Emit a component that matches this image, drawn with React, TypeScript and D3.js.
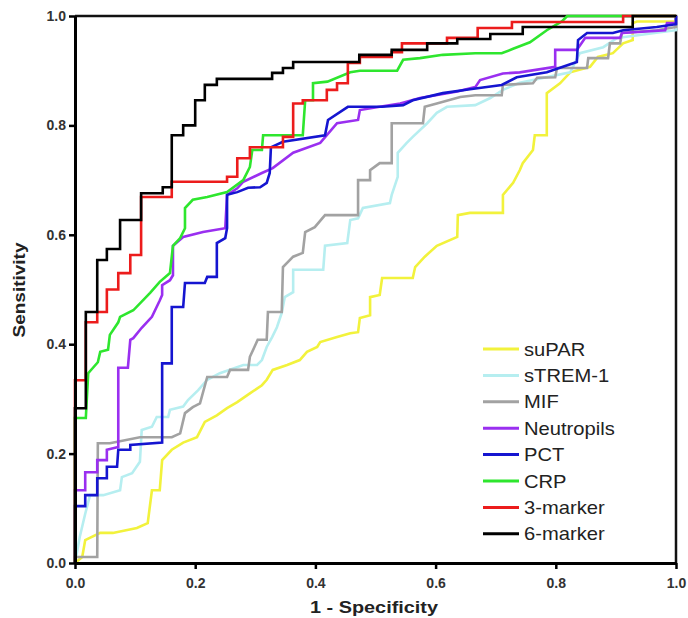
import React, { useEffect, useRef } from "react";
import * as d3 from "d3";

// legend order = draw order (6-marker ends up on top)
const legendLabels = ["suPAR", "sTREM-1", "MIF", "Neutropils", "PCT", "CRP", "3-marker", "6-marker"];
const lineColors = ["#f2f23c", "#b6eef0", "#a2a2a2", "#9a2ff0", "#1515d0", "#2ee62e", "#ec1c1c", "#000000"];
const axisTicks = [0, 0.2, 0.4, 0.6, 0.8, 1.0];

// [1 - specificity, sensitivity]
const suparRoc = [
  [0, 0], [0.012, 0.011], [0.017, 0.042], [0.042, 0.055], [0.063, 0.055], [0.103, 0.064], [0.121, 0.073],
  [0.128, 0.133], [0.141, 0.133], [0.145, 0.188], [0.161, 0.207], [0.18, 0.22], [0.203, 0.23], [0.216, 0.258],
  [0.236, 0.27], [0.253, 0.283], [0.27, 0.294], [0.291, 0.31], [0.311, 0.325], [0.319, 0.335], [0.329, 0.353],
  [0.353, 0.362], [0.374, 0.371], [0.386, 0.386], [0.403, 0.395], [0.408, 0.404], [0.436, 0.413], [0.458, 0.42],
  [0.471, 0.422], [0.474, 0.448], [0.491, 0.453], [0.491, 0.486], [0.507, 0.49], [0.511, 0.521], [0.562, 0.521],
  [0.566, 0.541], [0.582, 0.56], [0.602, 0.58], [0.636, 0.596], [0.637, 0.636], [0.657, 0.64], [0.712, 0.64],
  [0.712, 0.673], [0.729, 0.695], [0.74, 0.718], [0.745, 0.731], [0.762, 0.755], [0.765, 0.782], [0.785, 0.782],
  [0.785, 0.859], [0.807, 0.877], [0.824, 0.897], [0.857, 0.907], [0.87, 0.925], [0.895, 0.932], [0.912, 0.95],
  [0.928, 0.956], [0.928, 0.987], [0.935, 0.99], [1, 0.99], [1, 1],
];
const stremRoc = [
  [0, 0], [0.008, 0.048], [0.017, 0.09], [0.025, 0.124], [0.047, 0.124], [0.075, 0.133], [0.078, 0.157],
  [0.095, 0.164], [0.108, 0.185], [0.111, 0.243], [0.128, 0.249], [0.136, 0.267], [0.155, 0.267], [0.158, 0.28],
  [0.18, 0.286], [0.188, 0.298], [0.205, 0.316], [0.22, 0.335], [0.241, 0.347], [0.28, 0.362], [0.303, 0.362],
  [0.311, 0.371], [0.319, 0.395], [0.328, 0.413], [0.336, 0.431], [0.344, 0.457], [0.349, 0.486], [0.363, 0.495],
  [0.363, 0.536], [0.413, 0.536], [0.416, 0.58], [0.453, 0.585], [0.458, 0.627], [0.471, 0.63], [0.479, 0.649],
  [0.524, 0.658], [0.527, 0.673], [0.537, 0.706], [0.537, 0.75], [0.552, 0.768], [0.562, 0.779], [0.586, 0.804],
  [0.602, 0.823], [0.619, 0.834], [0.666, 0.837], [0.691, 0.85], [0.712, 0.865], [0.74, 0.878], [0.824, 0.897],
  [0.84, 0.932], [0.879, 0.943], [0.902, 0.96], [1, 0.974], [1, 1],
];
const mifRoc = [
  [0, 0], [0, 0.011], [0.037, 0.011], [0.038, 0.219], [0.058, 0.219], [0.108, 0.23], [0.161, 0.23],
  [0.175, 0.237], [0.183, 0.274], [0.196, 0.285], [0.208, 0.292], [0.22, 0.34], [0.253, 0.34], [0.258, 0.353],
  [0.288, 0.353], [0.291, 0.377], [0.304, 0.408], [0.319, 0.408], [0.321, 0.459], [0.344, 0.459], [0.346, 0.541],
  [0.363, 0.56], [0.379, 0.567], [0.383, 0.605], [0.399, 0.614], [0.416, 0.636], [0.471, 0.636], [0.471, 0.7],
  [0.491, 0.7], [0.491, 0.718], [0.507, 0.731], [0.527, 0.731], [0.527, 0.804], [0.579, 0.804], [0.582, 0.834],
  [0.602, 0.84], [0.641, 0.852], [0.666, 0.855], [0.71, 0.855], [0.712, 0.874], [0.762, 0.877], [0.769, 0.887],
  [0.799, 0.888], [0.802, 0.905], [0.852, 0.905], [0.854, 0.923], [0.887, 0.923], [0.89, 0.95], [0.907, 0.95],
  [0.91, 0.969], [0.968, 0.974], [1, 0.98], [1, 1],
];
const neutroRoc = [
  [0, 0], [0, 0.133], [0.017, 0.133], [0.017, 0.166], [0.037, 0.166], [0.037, 0.188], [0.053, 0.188],
  [0.053, 0.207], [0.072, 0.212], [0.072, 0.357], [0.088, 0.357], [0.092, 0.408], [0.097, 0.411], [0.111, 0.43],
  [0.128, 0.45], [0.141, 0.48], [0.145, 0.49], [0.145, 0.508], [0.158, 0.517], [0.163, 0.526], [0.163, 0.58],
  [0.18, 0.596], [0.213, 0.605], [0.25, 0.612], [0.253, 0.673], [0.27, 0.685], [0.28, 0.697], [0.311, 0.713],
  [0.329, 0.722], [0.363, 0.75], [0.408, 0.768], [0.436, 0.804], [0.471, 0.81], [0.474, 0.828], [0.507, 0.834],
  [0.541, 0.84], [0.574, 0.85], [0.636, 0.862], [0.666, 0.87], [0.674, 0.883], [0.712, 0.895], [0.74, 0.897],
  [0.799, 0.907], [0.799, 0.938], [0.835, 0.938], [0.849, 0.96], [0.907, 0.96], [0.91, 0.969], [0.982, 0.974],
  [0.985, 0.987], [1, 0.987], [1, 1],
];
const pctRoc = [
  [0, 0], [0, 0.104], [0.017, 0.104], [0.017, 0.124], [0.037, 0.124], [0.037, 0.155], [0.053, 0.155],
  [0.053, 0.176], [0.07, 0.176], [0.072, 0.207], [0.092, 0.207], [0.092, 0.216], [0.145, 0.22], [0.145, 0.365],
  [0.161, 0.365], [0.161, 0.468], [0.18, 0.468], [0.183, 0.512], [0.216, 0.512], [0.22, 0.523], [0.236, 0.523],
  [0.236, 0.585], [0.25, 0.594], [0.253, 0.612], [0.253, 0.673], [0.27, 0.678], [0.288, 0.686], [0.308, 0.687],
  [0.319, 0.695], [0.324, 0.713], [0.326, 0.76], [0.346, 0.77], [0.416, 0.782], [0.421, 0.81], [0.454, 0.834],
  [0.511, 0.834], [0.546, 0.837], [0.562, 0.846], [0.612, 0.859], [0.657, 0.866], [0.71, 0.874], [0.735, 0.888],
  [0.785, 0.897], [0.835, 0.916], [0.837, 0.956], [0.852, 0.969], [0.895, 0.969], [0.912, 0.974], [0.968, 0.98],
  [1, 0.985], [1, 1],
];
const crpRoc = [
  [0, 0], [0, 0.265], [0.018, 0.265], [0.022, 0.347], [0.038, 0.367], [0.042, 0.386], [0.055, 0.39],
  [0.058, 0.417], [0.072, 0.44], [0.075, 0.45], [0.097, 0.462], [0.125, 0.494], [0.141, 0.514], [0.158, 0.53],
  [0.163, 0.58], [0.175, 0.594], [0.183, 0.612], [0.183, 0.649], [0.196, 0.664], [0.22, 0.669], [0.253, 0.678],
  [0.28, 0.7], [0.291, 0.724], [0.295, 0.755], [0.311, 0.755], [0.313, 0.782], [0.379, 0.782], [0.383, 0.846],
  [0.396, 0.846], [0.396, 0.877], [0.42, 0.88], [0.458, 0.897], [0.474, 0.9], [0.536, 0.9], [0.546, 0.92],
  [0.574, 0.923], [0.612, 0.929], [0.666, 0.932], [0.71, 0.932], [0.729, 0.94], [0.757, 0.952], [0.785, 0.974],
  [0.81, 0.99], [0.819, 1], [1, 1],
];
const marker3Roc = [
  [0, 0], [0, 0.334], [0.018, 0.334], [0.018, 0.44], [0.037, 0.44], [0.037, 0.459], [0.053, 0.459],
  [0.053, 0.5], [0.072, 0.5], [0.072, 0.53], [0.092, 0.53], [0.092, 0.563], [0.11, 0.563], [0.11, 0.669],
  [0.161, 0.669], [0.161, 0.697], [0.253, 0.697], [0.253, 0.706], [0.27, 0.706], [0.27, 0.74], [0.291, 0.74],
  [0.291, 0.76], [0.346, 0.76], [0.346, 0.779], [0.363, 0.779], [0.363, 0.84], [0.379, 0.84], [0.379, 0.846],
  [0.419, 0.846], [0.419, 0.865], [0.436, 0.865], [0.436, 0.877], [0.454, 0.877], [0.454, 0.914], [0.474, 0.914],
  [0.474, 0.925], [0.527, 0.925], [0.527, 0.934], [0.544, 0.934], [0.544, 0.95], [0.619, 0.95], [0.619, 0.96],
  [0.67, 0.96], [0.67, 0.978], [0.727, 0.978], [0.727, 0.989], [0.912, 0.989], [0.912, 1], [1, 1],
];
const marker6Roc = [
  [0, 0], [0, 0.283], [0.018, 0.283], [0.018, 0.459], [0.037, 0.459], [0.037, 0.554], [0.053, 0.554],
  [0.053, 0.574], [0.075, 0.574], [0.075, 0.627], [0.11, 0.627], [0.11, 0.676], [0.146, 0.676], [0.146, 0.687],
  [0.161, 0.687], [0.161, 0.782], [0.18, 0.782], [0.18, 0.8], [0.2, 0.8], [0.2, 0.846], [0.216, 0.846],
  [0.216, 0.874], [0.236, 0.874], [0.236, 0.885], [0.328, 0.885], [0.328, 0.896], [0.346, 0.896], [0.346, 0.905],
  [0.363, 0.905], [0.363, 0.916], [0.473, 0.916], [0.473, 0.929], [0.527, 0.929], [0.527, 0.938], [0.586, 0.938],
  [0.586, 0.95], [0.636, 0.95], [0.636, 0.958], [0.691, 0.958], [0.691, 0.967], [0.745, 0.967], [0.745, 0.98],
  [0.928, 0.98], [0.928, 1], [1, 1],
];

const curves = [suparRoc, stremRoc, mifRoc, neutroRoc, pctRoc, crpRoc, marker3Roc, marker6Roc];

const RocChart = () => {
  const svgRef = useRef(null);
  const width = 688;
  const height = 618;
  const marginLeft = 75;
  const marginRight = 12;
  const marginTop = 16;
  const marginBottom = 55;
  const font = "'Liberation Sans', Arial, sans-serif";

  useEffect(() => {
    const svg = d3.select(svgRef.current);
    svg.selectAll("*").remove();

    const x = d3.scaleLinear().domain([0, 1]).range([marginLeft, width - marginRight]);
    const y = d3.scaleLinear().domain([0, 1]).range([height - marginBottom, marginTop]);

    const line = d3
      .line()
      .x(d => x(d[0]))
      .y(d => y(d[1]));

    // top / right frame
    svg
      .append("path")
      .attr("d", `M${x(0)},${y(1)}H${x(1)}V${y(0)}`)
      .attr("fill", "none")
      .attr("stroke", "#111")
      .attr("stroke-width", 2.5);

    curves.forEach((c, i) => {
      svg
        .append("path")
        .datum(c)
        .attr("fill", "none")
        .attr("stroke", lineColors[i])
        .attr("stroke-width", 2.6)
        .attr("stroke-linejoin", "miter")
        .attr("d", line);
    });

    const fmt = d3.format(".1f");

    svg
      .append("g")
      .attr("transform", `translate(0,${y(0)})`)
      .call(d3.axisBottom(x).tickValues(axisTicks).tickFormat(fmt).tickSize(6).tickPadding(9).tickSizeOuter(0))
      .call(g => g.select(".domain").attr("stroke", "#000").attr("stroke-width", 3))
      .call(g => g.selectAll(".tick line").attr("stroke", "#000").attr("stroke-width", 2.5))
      .call(g =>
        g
          .selectAll(".tick text")
          .attr("fill", "#333")
          .style("font", `bold 14px ${font}`),
      );

    svg
      .append("g")
      .attr("transform", `translate(${x(0)},0)`)
      .call(d3.axisLeft(y).tickValues(axisTicks).tickFormat(fmt).tickSize(6).tickPadding(3).tickSizeOuter(0))
      .call(g => g.select(".domain").attr("stroke", "#000").attr("stroke-width", 3))
      .call(g => g.selectAll(".tick line").attr("stroke", "#000").attr("stroke-width", 2.5))
      .call(g =>
        g
          .selectAll(".tick text")
          .attr("fill", "#333")
          .style("font", `bold 14px ${font}`),
      );

    // axis titles
    svg
      .append("text")
      .attr("x", 374)
      .attr("y", 613)
      .attr("text-anchor", "middle")
      .attr("textLength", 128)
      .attr("lengthAdjust", "spacingAndGlyphs")
      .style("font", `bold 17px ${font}`)
      .attr("fill", "#222")
      .text("1 - Specificity");

    svg
      .append("text")
      .attr("transform", `translate(25,290) rotate(-90)`)
      .attr("text-anchor", "middle")
      .attr("textLength", 95)
      .attr("lengthAdjust", "spacingAndGlyphs")
      .style("font", `bold 17px ${font}`)
      .attr("fill", "#222")
      .text("Sensitivity");

    // legend
    const legend = svg.append("g").attr("transform", `translate(483,349)`);
    legendLabels.forEach((name, i) => {
      const row = legend.append("g").attr("transform", `translate(0,${i * 26.4})`);
      row
        .append("line")
        .attr("x1", 0)
        .attr("x2", 36)
        .attr("stroke", lineColors[i])
        .attr("stroke-width", 3);
      row
        .append("text")
        .attr("transform", "translate(41,6.5) scale(1.12,1)")
        .style("font", `18px ${font}`)
        .attr("fill", "#222")
        .text(name);
    });
  }, []);

  return <svg ref={svgRef} width={width} height={height} style={{ display: "block" }} />;
};

export default function App() {
  return (
    <div style={{ position: "absolute", left: 0, top: 0, background: "#fff" }}>
      <RocChart />
    </div>
  );
}
